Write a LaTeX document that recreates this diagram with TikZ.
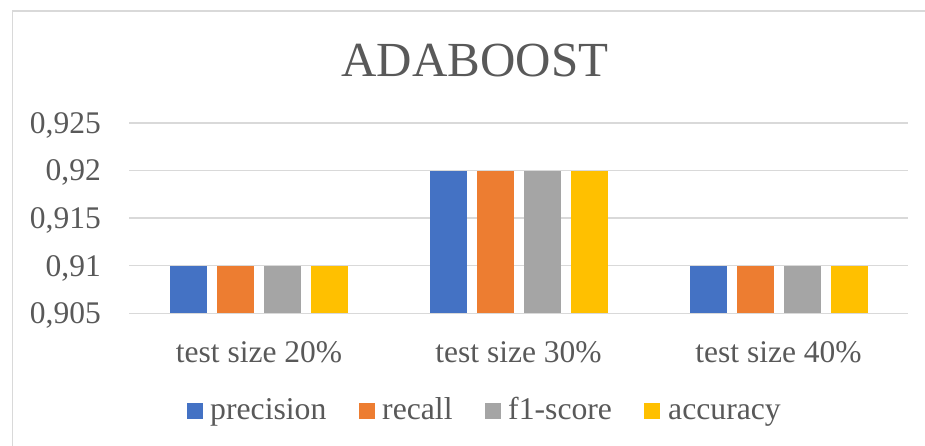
\documentclass[tikz,border=0pt]{standalone}
\usepackage{fontspec}
\setmainfont{Liberation Serif}
\definecolor{txt}{HTML}{595959}
\definecolor{gridc}{HTML}{D9D9D9}
\definecolor{cblue}{HTML}{4472C4}
\definecolor{corange}{HTML}{ED7D31}
\definecolor{cgray}{HTML}{A5A5A5}
\definecolor{cyellow}{HTML}{FFC000}
\begin{document}
\begin{tikzpicture}[x=1pt,y=-1pt,
  gridline/.style={draw=gridc,line width=1.4pt},
  ylab/.style={anchor=base east,text=txt,inner sep=0pt,font=\fontsize{31.5}{31.5}\selectfont},
  catlab/.style={anchor=base,text=txt,inner sep=0pt,font=\fontsize{31.5}{31.5}\selectfont},
  leglab/.style={anchor=base west,text=txt,inner sep=0pt,font=\fontsize{31.7}{31.7}\selectfont},
  titlelab/.style={anchor=base,text=txt,inner sep=0pt,font=\fontsize{49}{49}\selectfont},
  bar/.style={line width=0pt}]
\useasboundingbox (0,0) rectangle (925,446);
\fill[white] (0,0) rectangle (925,446);
% chart area border
\draw[draw=gridc,line width=1.2pt] (12.7,11) rectangle (960,480);
% title
\node[titlelab] (title) at (475,77) {ADABOOST};
% grid lines and y labels
\foreach \v/\lab [count=\i] in {0/{0,905},1/{0,91},2/{0,915},3/{0,92},4/{0,925}}{
  \pgfmathsetmacro{\yy}{313.3-47.6*\v}
  \draw[gridline] (129,\yy) -- (908,\yy);
  \node[ylab] (y\i) at (101,\yy+10.5) {\lab};
}
% bars
\foreach \c/\val [count=\g] in {259/0.91,518.5/0.92,778.5/0.91}{
  \pgfmathsetmacro{\top}{313.3-(\val-0.905)/0.005*47.6}
  \fill[cblue]   (\c-89,313.3) rectangle (\c-52,\top);
  \fill[corange] (\c-42,313.3) rectangle (\c-5,\top);
  \fill[cgray]   (\c+5,313.3) rectangle (\c+42,\top);
  \fill[cyellow] (\c+52,313.3) rectangle (\c+89,\top);
}
% category labels
\node[catlab] (c1) at (259,362) {test size 20\%};
\node[catlab] (c2) at (518.5,362) {test size 30\%};
\node[catlab] (c3) at (778.5,362) {test size 40\%};
% legend
\fill[cblue]   (187,403) rectangle (203,419);
\node[leglab] (l1) at (210,419) {precision};
\fill[corange] (359,403) rectangle (375,419);
\node[leglab] (l2) at (382,419) {recall};
\fill[cgray]   (485,403) rectangle (501,419);
\node[leglab] (l3) at (508,419) {f1-score};
\fill[cyellow] (644,403) rectangle (660,419);
\node[leglab] (l4) at (668,419) {accuracy};
\end{tikzpicture}
\end{document}
